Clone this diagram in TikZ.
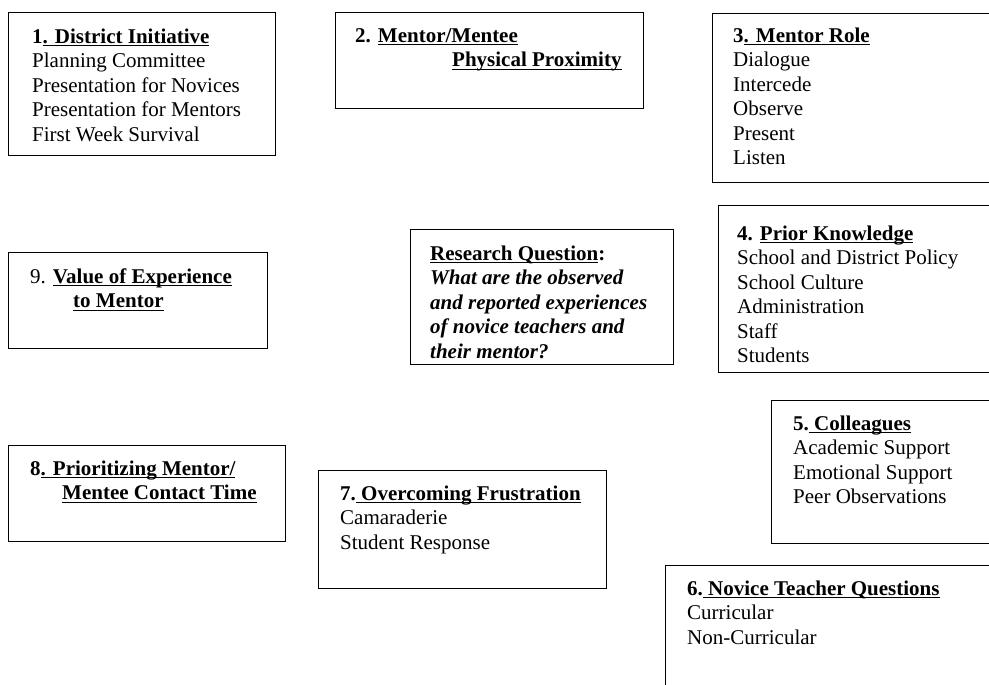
\documentclass[tikz,border=0pt]{standalone}
\usepackage{fontspec}
\setmainfont{Liberation Serif}
\newcommand\myul[1]{\setbox0\hbox{#1}\rlap{\vrule height -2pt depth 3.1pt width \wd0}\box0}
\begin{document}
\begin{tikzpicture}[x=1pt,y=-1pt,
  box/.style={draw=black, line width=1.2pt, anchor=north west, inner sep=0pt},
  txt/.style={anchor=north west, inner sep=0pt, align=left, text=black,
    font=\fontsize{21}{24.5}\selectfont}]
\useasboundingbox (0,0) rectangle (989,685);
\clip (0,0) rectangle (989,685);
% boxes
\node[box, minimum width=267pt, minimum height=143pt] (b1) at (8,12) {};
\node[box, minimum width=308pt, minimum height=96pt] (b2) at (335,12) {};
\node[box, minimum width=300pt, minimum height=169pt] (b3) at (712,13) {};
\node[box, minimum width=259pt, minimum height=96pt] (b9) at (8,252) {};
\node[box, minimum width=263pt, minimum height=135pt] (rq) at (410,229) {};
\node[box, minimum width=290pt, minimum height=167pt] (b4) at (718,205) {};
\node[box, minimum width=277pt, minimum height=96pt] (b8) at (8,445) {};
\node[box, minimum width=288pt, minimum height=118pt] (b7) at (318,470) {};
\node[box, minimum width=240pt, minimum height=143pt] (b5) at (771,400) {};
\node[box, minimum width=340pt, minimum height=140pt] (b6) at (665,565) {};
% texts
\node[txt] (t1) at (32,25.9) {\strut\textbf{1\myul{. District Initiative}}\\
  Planning Committee\\ Presentation for Novices\\ Presentation for Mentors\\ First Week Survival};
\node[txt] (t2) at (355,24.9) {\strut\textbf{2. \myul{Mentor/Mentee}}\\
  \hspace*{97pt}\textbf{\myul{Physical Proximity}}};
\node[txt] (t3) at (733,24.9) {\strut\textbf{3\myul{. Mentor Role}}\\
  Dialogue\\ Intercede\\ Observe\\ Present\\ Listen};
\node[txt] (t9) at (30,265.9) {\strut 9. \textbf{\myul{Value of Experience}}\\
  \hspace*{43pt}\textbf{\myul{to Mentor}}};
\node[txt] (tq) at (430,242.9) {\strut\textbf{\myul{Research Question}:}\\
  \textbf{\itshape What are the observed}\\ \textbf{\itshape and reported experiences}\\
  \textbf{\itshape of novice teachers and}\\ \textbf{\itshape their mentor?}};
\node[txt] (t4) at (737,222.9) {\strut\textbf{4. \myul{Prior Knowledge}}\\
  School and District Policy\\ School Culture\\ Administration\\ Staff\\ Students};
\node[txt] (t8) at (30,457.9) {\strut\textbf{8\myul{. Prioritizing Mentor/}}\\
  \hspace*{32pt}\textbf{\myul{Mentee Contact Time}}};
\node[txt] (t7) at (340,482.9) {\strut\textbf{7.\myul{ Overcoming Frustration}}\\
  Camaraderie\\ Student Response};
\node[txt] (t5) at (793,412.9) {\strut\textbf{5.\myul{ Colleagues}}\\
  Academic Support\\ Emotional Support\\ Peer Observations};
\node[txt] (t6) at (687,577.9) {\strut\textbf{6.\myul{ Novice Teacher Questions}}\\
  Curricular\\ Non-Curricular};
\end{tikzpicture}
\end{document}
